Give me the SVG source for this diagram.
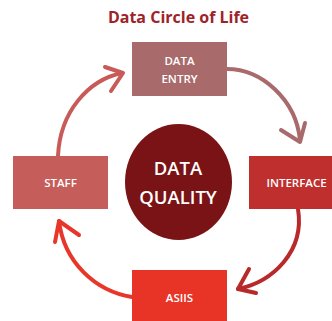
<svg xmlns="http://www.w3.org/2000/svg" width="332" height="321" viewBox="0 0 332 321">
<style>
.t{font-family:"Open Sans","Liberation Sans",sans-serif;font-weight:600;fill:#fff;text-anchor:middle}
.s{font-size:11.5px}
.a{fill:none;stroke-width:4;stroke-linecap:round;stroke-linejoin:round}
</style>
<rect width="332" height="321" fill="#fff"/>
<text x="178.5" y="23" font-family="'Open Sans','Liberation Sans',sans-serif" font-weight="700" font-size="16" fill="#9e2328" text-anchor="middle">Data Circle of Life</text>
<g id="connectors">
<path class="a" stroke="#c85a58" d="M58,156 C60,112 88,80 122,73"/><path class="a" stroke="#c85a58" d="M105,67 L123,73 L111,91"/>
<path class="a" stroke="#a86a6a" d="M227,69 C262,69 296,100 300,140"/><path class="a" stroke="#a86a6a" d="M281,130 L300,142 L305,123"/>
<path class="a" stroke="#b8292a" d="M298,209 C305,252 272,282 238,289"/><path class="a" stroke="#b8292a" d="M249,269 L238,289 L256,293"/>
<path class="a" stroke="#e8372a" d="M132,297 C95,291 64,262 59,221"/><path class="a" stroke="#e8372a" d="M55,242 L59,221 L79,235"/>
</g>
<g id="entry"><rect x="132" y="42" width="95" height="54" fill="#a86a6a"/><text class="t s" x="179.5" y="65">DATA</text><text class="t s" x="179.5" y="83">ENTRY</text></g>
<g id="staff"><rect x="13" y="156" width="95" height="53" fill="#c55d5b"/><text class="t s" x="60.5" y="187">STAFF</text></g>
<g id="interface"><rect x="249" y="156" width="90" height="53" fill="#be2f2e"/><text class="t s" x="296.5" y="187">INTERFACE</text></g>
<g id="asiis"><rect x="132" y="270" width="95" height="55" fill="#e83427"/><text class="t s" x="179.5" y="302">ASIIS</text></g>
<g id="quality"><ellipse cx="178.5" cy="182" rx="53.5" ry="58" fill="#7a1315"/><text class="t" x="178" y="175" font-size="18.5">DATA</text><text class="t" x="178" y="204" font-size="18.5">QUALITY</text></g>
</svg>
